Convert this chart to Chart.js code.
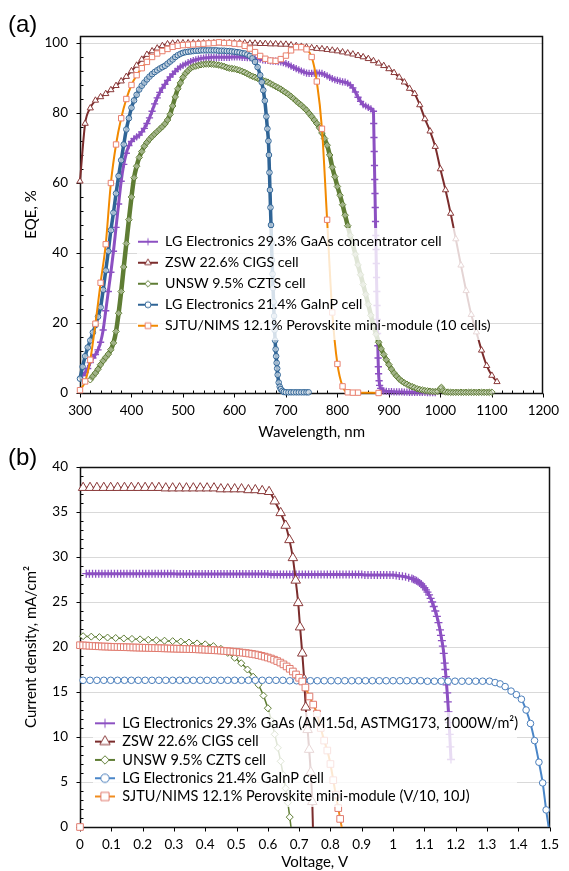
<!DOCTYPE html>
<html><head><meta charset="utf-8">
<script src="https://cdn.jsdelivr.net/npm/chart.js@4.4.1/dist/chart.umd.min.js"></script>
<style>
html,body{margin:0;padding:0;background:#fff;}
#wrap{position:relative;width:569px;height:871px;overflow:hidden;background:#fff;}
canvas{position:absolute;left:0;}
#ca{top:0;} #cb{top:441px;}
.plabel{position:absolute;left:8px;font-family:'Liberation Sans',Arial,sans-serif;font-size:24px;line-height:24px;color:#000;}
</style></head><body>
<div id="wrap">
<canvas id="ca" width="569" height="441"></canvas>
<canvas id="cb" width="569" height="430"></canvas>
<div class="plabel" style="top:12px">(a)</div>
<div class="plabel" style="top:445px">(b)</div>
</div>
<script>
// ---------------- Panel (a): EQE vs wavelength ----------------
const labelsA = ['LG Electronics 29.3% GaAs concentrator cell','ZSW 22.6% CIGS cell','UNSW 9.5% CZTS cell','LG Electronics 21.4% GaInP cell','SJTU/NIMS 12.1% Perovskite mini-module (10 cells)'];
const xTicksA = ['300','400','500','600','700','800','900','1000','1100','1200'];
const yTickValuesA = [0,20,40,60,80,100];
const yTicksA = ['0','20','40','60','80','100'];

const gaasEqeWl = [305,310,315,320,325,330,335,340,345,350,
355,360,365,370,375,380,385,390,395,400,
405,410,415,420,425,430,435,440,445,450,
455,460,465,470,475,480,485,490,495,500,
505,510,515,520,525,530,535,540,545,550,
555,560,565,570,575,580,585,590,595,600,
605,610,615,620,625,630,635,640,645,650,
655,660,665,670,675,680,685,690,695,700,
705,710,715,720,725,730,735,740,745,750,
755,760,765,770,775,780,785,790,795,800,
805,810,815,820,825,830,835,840,845,850,
855,860,865,870,870.5,871,871.5,872,872.5,873,
873.5,874,874.5,875,875.5,876,876.5,877,877.5,878,
878.5,879,879.5,880,881,882,884,887,890,895,
900,905,910,915,920,925,930,935,940,945,
950,955,960,965,970,975,980,985,990];
const gaasEqe = [5,5.8,7,8.7,10,11,12.3,14.5,18,23.5,
29,34.5,40.5,47.3,54,60.5,65.3,68.5,70.7,71.9,
72.7,73.2,73.7,74.6,75.6,77,78.6,80.5,82.6,84.3,
85.9,87.1,88.2,89.3,90.3,91.1,91.9,92.6,93.2,93.6,
94,94.4,94.7,95,95.2,95.4,95.6,95.7,95.8,95.8,
95.9,95.9,95.9,95.9,95.9,95.9,95.9,95.9,96,96,
96,96,95.9,95.9,95.8,95.8,95.7,95.6,95.5,95.4,
95.2,95.1,95,94.9,94.8,94.8,94.7,94.6,94.4,94.1,
93.8,93.4,93,92.7,92.3,92,91.7,91.4,91.3,91.3,
91.4,91.4,91.4,91.3,91,90.6,90.2,89.8,89.5,89.3,
89.1,88.9,88.8,88.5,88,87.2,86,84.5,83.3,82.4,
82,81.6,81.2,80.5,77,73,69,65,61,57,
53,49,45,41,37,33,29,25,21,17,
13.5,10,7.5,5.5,3.5,2.2,1.3,0.8,0.6,0.5,
0.4,0.4,0.35,0.3,0.3,0.3,0.25,0.25,0.2,0.2,
0.2,0.2,0.2,0.15,0.15,0.1,0.1,0.1,0.1];

const cigsEqeWl = [300,310,320,330,340,350,360,370,380,390,
400,410,420,430,440,450,460,470,480,490,
500,510,520,530,540,550,560,570,580,590,
600,610,620,630,640,650,660,670,680,690,
700,710,720,730,740,750,760,770,780,790,
800,810,820,830,840,850,860,870,880,890,
900,910,920,930,940,950,960,970,980,990,
1000,1010,1020,1030,1040,1050,1060,1070,1080,1090,
1100,1110];
const cigsEqe = [60.5,77,81.4,83.6,84.6,85.5,86.6,87.8,89.1,90.4,
92,93.6,95.3,96.7,97.7,98.5,99.2,99.7,99.9,100,
100,100,100,100,100,100,100,100,100,100,
100,100,100,99.9,99.9,99.8,99.8,99.7,99.7,99.6,
99.6,99.4,99.2,99,98.8,98.6,98.4,98.3,98.1,97.9,
97.7,97.4,97.1,96.8,96.4,96,95.5,94.9,94.2,93.5,
92.6,91.5,90.2,88.8,87,85.5,82.3,78.3,74.8,70.4,
64,58,51.3,44,36.5,29.2,22.4,17.4,12.2,7.8,
5,3.2];

const cztsEqeWl = [320,325,330,335,340,345,350,355,360,365,
370,375,380,385,390,395,400,405,410,415,
420,425,430,435,440,445,450,455,460,465,
470,475,480,485,490,495,500,505,510,515,
520,525,530,535,540,545,550,555,560,565,
570,575,580,585,590,595,600,605,610,615,
620,625,630,635,640,645,650,655,660,665,
670,675,680,685,690,695,700,705,710,715,
720,725,730,735,740,745,750,755,760,765,
770,775,780,785,790,795,800,805,810,815,
820,825,830,835,840,845,850,855,860,865,
870,875,880,885,890,895,900,905,910,915,
920,925,930,935,940,945,950,955,960,965,
970,975,980,985,990,995,1000,1002,1005,1010,
1015,1020,1025,1030,1035,1040,1045,1050,1055,1060,
1065,1070,1075,1080,1085,1090,1095,1100];
const cztsEqe = [3.8,4.8,5.7,6.8,8.1,9.2,10.2,11.1,12.4,14.3,
17.6,22.8,29,36,42.7,49.5,56,61.5,64.8,67.3,
69,70.5,71.6,72.5,73.3,74,74.7,75.4,76.1,76.9,
78,79.6,82,84.6,86.9,88.6,90.2,91.3,92.1,92.8,
93.2,93.4,93.6,93.8,93.9,94,94,94,93.9,93.8,
93.7,93.5,93.3,93,92.8,92.7,92.6,92.4,92.2,91.9,
91.6,91.2,90.8,90.5,90.2,89.9,89.6,89.3,89.1,88.8,
88.4,88,87.6,87.2,86.8,86.3,85.8,85.3,84.7,84.1,
83.4,82.8,82.2,81.5,80.8,79.9,79,78,77,75.8,
74.3,72.7,70.8,68,64.5,61.8,59,56.5,53.8,50.8,
47.8,45,42.4,39.6,36.6,33.8,31,28.2,25.3,22.2,
19.3,16.8,14.5,12.6,11,9.5,8.1,6.8,5.7,4.8,
4,3.4,2.9,2.5,2.1,1.8,1.5,1.2,1,0.85,
0.7,0.6,0.5,0.45,0.4,0.5,1.2,1.6,0.6,0.3,
0.25,0.2,0.2,0.2,0.2,0.2,0.2,0.2,0.2,0.2,
0.2,0.2,0.2,0.2,0.2,0.2,0.2,0.2];

const gainpEqeWl = [300,305,310,315,320,325,330,335,340,345,
350,355,360,365,370,375,380,385,390,395,
400,405,410,415,420,425,430,435,440,445,
450,455,460,465,470,475,480,485,490,495,
500,505,510,515,520,525,530,535,540,545,
550,555,560,565,570,575,580,585,590,595,
600,605,610,615,620,625,630,635,640,645,
650,653,656,659,662,664,666,667,668,669,
670,671,672,673,674,675,676,677,678,679,
680,681,682,683,684,686,688,690,693,696,
700,705,710,715,720,725,730,735,740,744];
const gainpEqe = [4.1,7.5,10.5,13,15,17.3,19.4,21.8,24.5,29.5,
35,40.5,46.5,51.5,57,62,66.5,71,75.3,78.5,
81.5,83.6,85.2,86.7,87.8,88.7,89.6,90.4,91.1,91.7,
92.2,92.7,93.1,93.5,94.1,94.7,95.3,96,96.5,96.9,
97.2,97.4,97.5,97.6,97.7,97.8,97.8,97.9,97.9,97.9,
97.9,97.9,97.9,97.9,97.8,97.8,97.8,97.7,97.7,97.6,
97.5,97.4,97.3,97.1,97,96.7,96.3,95.6,94.6,93.1,
90.8,88.8,86.5,83.5,79,75.5,72,68,63,58,
53,48,43,38,34,30,26,22,18,15,
12.5,10.5,8.6,7,5.2,3,1.8,1.1,0.6,0.3,
0.2,0.2,0.2,0.2,0.2,0.2,0.2,0.2,0.2,0.2];

const pskEqeWl = [300,310,320,330,340,350,360,370,380,390,
400,410,420,430,440,450,460,470,480,490,
500,510,520,530,540,550,560,570,580,590,
600,610,620,630,640,650,660,670,680,690,
700,710,720,730,740,750,760,770,780,790,
800,810,820,830,840,880];
const pskEqe = [0.8,3.3,9.5,19.8,31.5,42.5,60,71,78.5,84,
88,90.8,92.8,94.6,96,97,97.7,98.3,98.9,99.2,
99.4,99.5,99.6,99.7,99.8,99.9,100,100.2,100,100,
99.8,99.7,99.2,98.4,97.4,96.3,95.5,95,94.9,95.4,
96.4,97.9,98.8,98.8,98.2,96,89,75.5,49.5,23,
8.3,1.9,0.2,0.1,0.1,0];

// ---------------- Panel (b): J-V ----------------
const labelsB = ['LG Electronics 29.3% GaAs (AM1.5d, ASTMG173, 1000W/m²)','ZSW 22.6% CIGS cell','UNSW 9.5% CZTS cell','LG Electronics 21.4% GaInP cell','SJTU/NIMS 12.1% Perovskite mini-module (V/10, 10J)'];
const xTicksB = ['0','0.1','0.2','0.3','0.4','0.5','0.6','0.7','0.8','0.9','1','1.1','1.2','1.3','1.4','1.5'];
const yTicksB = ['0','5','10','15','20','25','30','35','40'];

const gaasJvV = [0.02,0.03,0.04,0.05,0.06,0.07,0.08,0.09,0.10,0.11,0.12,0.13,0.14,0.15,0.16,0.17,0.18,0.19,0.20,0.21,0.22,0.23,0.24,0.25,0.26,0.27,0.28,0.29,0.30,
0.31,0.32,0.33,0.34,0.35,0.36,0.37,0.38,0.39,0.40,0.41,0.42,0.43,0.44,0.45,0.46,0.47,0.48,0.49,0.50,0.51,0.52,0.53,0.54,0.55,0.56,0.57,0.58,0.59,0.60,
0.61,0.62,0.63,0.64,0.65,0.66,0.67,0.68,0.69,0.70,0.71,0.72,0.73,0.74,0.75,0.76,0.77,0.78,0.79,0.80,0.81,0.82,0.83,0.84,0.85,0.86,0.87,0.88,0.89,0.90,
0.91,0.92,0.93,0.94,0.95,0.96,0.97,0.98,0.99,1.00,
1.01,1.02,1.03,1.04,1.05,1.06,
1.065,1.07,1.075,1.08,1.085,1.09,1.095,1.10,
1.105,1.11,1.115,1.12,1.125,1.13,1.135,1.14,1.145,1.15,
1.153,1.156,1.159,1.162,1.165,
1.167,1.169,1.171,1.173,1.175,1.177,1.179,1.181,1.183,1.185];
const gaasJvJ = [28.15,28.15,28.15,28.15,28.15,28.15,28.15,28.15,28.15,28.15,28.15,28.15,28.15,28.15,28.15,28.15,28.15,28.15,28.15,28.15,28.15,28.15,28.15,28.15,28.15,28.15,28.15,28.15,28.15,
28.1,28.1,28.1,28.1,28.1,28.1,28.1,28.1,28.1,28.1,28.1,28.1,28.1,28.1,28.1,28.1,28.1,28.1,28.1,28.1,28.1,28.1,28.1,28.1,28.1,28.1,28.1,28.1,28.1,28.1,
28.05,28.05,28.05,28.05,28.05,28.05,28.05,28.05,28.05,28.05,28.05,28.05,28.05,28.05,28.05,28.05,28.05,28.05,28.05,28.05,28.05,28.05,28.05,28.05,28.05,28.05,28.05,28.05,28.05,28.05,
28,28,28,28,28,28,28,28,28,28,
27.95,27.9,27.85,27.8,27.7,27.6,
27.52,27.45,27.35,27.25,27.12,27.0,26.8,26.6,
26.35,26.1,25.8,25.4,25.0,24.5,24.0,23.4,22.7,21.9,
21.3,20.7,20.1,19.3,18.2,
17.5,16.7,15.8,14.9,13.9,12.8,11.6,10.3,8.9,7.5];

const cigsJvV = [0.010,0.032,0.054,0.076,0.098,0.120,0.142,0.164,0.186,0.208,
0.230,0.252,0.274,0.296,0.318,0.340,0.362,0.384,0.406,0.428,
0.450,0.472,0.494,0.516,0.538,0.560,0.582,0.604,
0.622,0.641,0.657,0.669,0.680,0.689,0.697,0.703,0.710,0.716,0.721,0.727,0.732,0.737,0.742,0.744];
const cigsJvJ = [37.7,37.7,37.7,37.7,37.7,37.7,37.7,37.7,37.7,37.7,
37.7,37.7,37.65,37.65,37.65,37.65,37.65,37.65,37.65,37.65,
37.55,37.55,37.55,37.55,37.45,37.45,37.35,37.25,
36.2,34.9,33.5,31.9,29.9,27.4,24.9,22.2,19.3,16.4,13.3,10.8,8.6,6.1,2.8,0];

const cztsJvV = [0.010,0.036,0.062,0.088,0.114,0.140,0.166,0.192,0.218,0.244,
0.270,0.296,0.322,0.348,0.374,0.400,0.426,0.450,0.472,0.494,
0.515,0.535,0.553,0.570,0.586,0.600,0.612,0.622,0.632,0.641,
0.649,0.657,0.664,0.670,0.674];
const cztsJvJ = [21.2,21.15,21.1,21.05,21,20.95,20.9,20.85,20.8,20.75,
20.7,20.65,20.6,20.5,20.4,20.3,20.1,19.8,19.35,18.8,
18.2,17.5,16.7,15.8,14.6,13.2,11.8,10.3,8.8,7.3,
5.8,4.3,2.7,1.1,0];

const gainpJvV = [0.010,0.032,0.054,0.076,0.098,0.120,0.142,0.164,0.186,0.208,
0.230,0.252,0.274,0.296,0.318,0.340,0.362,0.384,0.406,0.428,
0.450,0.472,0.494,0.516,0.538,0.560,0.582,0.604,0.626,0.648,
0.670,0.692,0.714,0.736,0.758,0.780,0.802,0.824,0.846,0.868,
0.890,0.912,0.934,0.956,0.978,1.000,1.022,1.044,1.066,1.088,
1.110,1.132,1.154,1.176,1.198,1.220,1.242,1.264,1.286,1.308,
1.326,1.342,1.358,1.377,1.394,1.410,1.425,1.439,1.452,1.466,1.478,1.489,1.497];
const gainpJvJ = [16.3,16.3,16.3,16.3,16.3,16.3,16.3,16.3,16.3,16.3,
16.3,16.3,16.3,16.3,16.3,16.3,16.3,16.3,16.3,16.3,
16.3,16.3,16.3,16.3,16.3,16.3,16.3,16.3,16.3,16.3,
16.25,16.25,16.25,16.25,16.25,16.25,16.25,16.25,16.25,16.25,
16.25,16.25,16.25,16.25,16.25,16.25,16.25,16.25,16.25,16.25,
16.2,16.2,16.2,16.2,16.2,16.2,16.2,16.2,16.2,16.2,
16.05,15.9,15.6,15.1,14.7,14.2,13.0,11.5,9.6,7.2,4.9,1.9,0];

const pskJvV = [0.00,0.01,0.02,0.03,0.04,0.05,0.06,0.07,0.08,0.09,
0.10,0.11,0.12,0.13,0.14,0.15,0.16,0.17,0.18,0.19,
0.20,0.21,0.22,0.23,0.24,0.25,0.26,0.27,0.28,0.29,
0.30,0.31,0.32,0.33,0.34,0.35,0.36,0.37,0.38,0.39,
0.40,0.41,0.42,0.43,0.44,0.45,0.46,0.47,0.48,0.49,
0.50,0.51,0.52,0.53,0.54,0.55,0.56,0.57,0.58,0.59,
0.60,0.61,0.62,0.63,0.64,0.65,0.66,0.67,0.68,0.69,
0.70,0.71,0.72,
0.733,0.745,0.757,0.769,0.780,0.790,0.800,0.809,0.817,0.825,0.831,0.836];
const pskJvJ = [20.2,20.18,20.16,20.14,20.12,20.1,20.08,20.06,20.05,20.04,
20.02,20.01,20,19.99,19.98,19.97,19.96,19.95,19.94,19.93,
19.92,19.91,19.9,19.89,19.88,19.87,19.86,19.85,19.84,19.83,
19.82,19.81,19.8,19.79,19.78,19.77,19.76,19.75,19.73,19.72,
19.7,19.68,19.66,19.64,19.62,19.6,19.57,19.54,19.51,19.48,
19.45,19.41,19.37,19.33,19.28,19.23,19.17,19.1,19.02,18.93,
18.83,18.72,18.59,18.44,18.27,18.07,17.84,17.58,17.28,16.95,
16.58,16.17,15.5,
14.5,13.6,12.6,11.0,9.6,8.5,7.0,5.2,3.6,2.1,0.9,0];
const pskOriginV = [0];
const pskOriginJ = [0];

// ---------------- helpers ----------------
Chart.defaults.font.family = 'Lato';
Chart.defaults.color = '#000';
const pts = (xs, ys) => xs.map((x, i) => ({x: x, y: ys[i]}));

function ds(label, xs, ys, st, order, lastNoMarker) {
  const n = xs.length;
  return {
    label: label, data: pts(xs, ys), order: order,
    borderColor: st.line, borderWidth: st.lw, backgroundColor: st.fill,
    pointStyle: st.ps,
    pointRadius: lastNoMarker ? (c) => (c.dataIndex === n - 1 ? 0 : st.r) : st.r,
    pointHoverRadius: st.r,
    pointBorderColor: st.mk, pointBackgroundColor: st.fill, pointBorderWidth: st.mbw,
    cubicInterpolationMode: 'monotone', clip: false, fill: false, showLine: st.showLine !== false
  };
}

function makeIcon(w, h, st, r) {
  const c = document.createElement('canvas'); c.width = w; c.height = h;
  const g = c.getContext('2d');
  g.strokeStyle = st.line; g.lineWidth = 2;
  g.beginPath(); g.moveTo(0, h / 2); g.lineTo(w, h / 2); g.stroke();
  g.fillStyle = '#fff'; g.strokeStyle = st.mk; g.lineWidth = 1;
  Chart.helpers.drawPoint(g, {pointStyle: st.ps, radius: r, rotation: 0, borderWidth: 1}, w / 2, h / 2);
  return c;
}

function panelPlugin(cfg) {
  return {
    id: 'panel_' + cfg.name,
    afterInit(chart) {
      const lg = chart.legend;
      if (lg) lg._layers = () => [{z: 10, draw: (ca) => lg.draw(ca)}];
    },
    afterLayout(chart) {
      const lg = chart.legend;
      if (!lg) return;
      lg.left = cfg.legendX; lg.top = cfg.legendY;
      lg.width = 480; lg.height = 200;
      lg.right = lg.left + 480; lg.bottom = lg.top + 200;
    },
    beforeDatasetsDraw(chart) {
      const {ctx, chartArea: a, scales} = chart;
      const x = scales.x, y = scales.y;
      const L = Math.round(a.left) + 0.5, R = Math.round(a.right) - 0.5;
      const T = Math.round(a.top) + 0.5, B = Math.round(a.bottom) + 0.5;
      ctx.save();
      ctx.strokeStyle = '#000'; ctx.lineWidth = 1;
      ctx.beginPath();
      cfg.xMajor.forEach(v => { const p = Math.round(x.getPixelForValue(v)) + 0.5; ctx.moveTo(p, B); ctx.lineTo(p, B + 4); });
      cfg.xMinor.forEach(v => { const p = Math.round(x.getPixelForValue(v)) + 0.5; ctx.moveTo(p, B); ctx.lineTo(p, B - 3); });
      cfg.yMajor.forEach(v => { const p = Math.round(y.getPixelForValue(v)) + 0.5; ctx.moveTo(L - 4, p); ctx.lineTo(L, p); });
      cfg.yMinor.forEach(v => { const p = Math.round(y.getPixelForValue(v)) + 0.5; ctx.moveTo(L, p); ctx.lineTo(L + 3, p); });
      ctx.stroke();
      ctx.lineWidth = 1.5; ctx.strokeStyle = '#111';
      ctx.strokeRect(L, T, R - L, B - T);
      ctx.restore();
    },
    afterDatasetsDraw(chart) {
      const ctx = chart.ctx;
      ctx.save();
      ctx.fillStyle = 'rgba(255,255,255,0.8)';
      ctx.fillRect(cfg.box[0], cfg.box[1], cfg.box[2] - cfg.box[0], cfg.box[3] - cfg.box[1]);
      ctx.restore();
    }
  };
}

function range(a, b, s) { const out = []; for (let v = a; v <= b + 1e-9; v += s) out.push(Math.round(v * 1000) / 1000); return out; }

function legendOpts(icons, size, pad, bw) {
  return {
    display: true, position: 'chartArea', align: 'start',
    labels: {
      font: {family: 'Lato', size: size}, color: '#000', padding: pad,
      usePointStyle: true, pointStyleWidth: bw, boxHeight: size,
      sort: (a, b) => a.datasetIndex - b.datasetIndex,
      generateLabels(chart) {
        const items = Chart.defaults.plugins.legend.labels.generateLabels(chart);
        return items.filter(it => icons[it.datasetIndex]).map(it => Object.assign({}, it, {pointStyle: icons[it.datasetIndex], fontColor: '#000'}));
      }
    }
  };
}

// ---------------- styles ----------------
const stA = [
  {line: '#8C50C2', lw: 3, mk: '#8C50C2', fill: '#fff', ps: 'cross', r: 3.6, mbw: 1.3},
  {line: '#7B2C2C', lw: 2, mk: '#8B3A3A', fill: '#fff', ps: 'triangle', r: 3.6, mbw: 1},
  {line: '#5F7D34', lw: 4.5, mk: '#5F7D34', fill: 'rgba(255,255,255,0.4)', ps: 'rectRot', r: 3.3, mbw: 1},
  {line: '#2F6496', lw: 3.5, mk: '#2F6496', fill: 'rgba(255,255,255,0.55)', ps: 'circle', r: 2.8, mbw: 1},
  {line: '#F28A00', lw: 2, mk: '#E8806F', fill: '#fff', ps: 'rect', r: 3.8, mbw: 1}
];
const stB = [
  {line: '#8C50C2', lw: 3, mk: '#8C50C2', fill: '#fff', ps: 'cross', r: 4, mbw: 1.3},
  {line: '#7B2C2C', lw: 2, mk: '#8B3A3A', fill: '#fff', ps: 'triangle', r: 5.5, mbw: 1},
  {line: '#5F7D34', lw: 1.5, mk: '#5F7D34', fill: '#fff', ps: 'rectRot', r: 3.5, mbw: 1},
  {line: '#4A86C8', lw: 2, mk: '#4A7EBB', fill: '#fff', ps: 'circle', r: 3.3, mbw: 1},
  {line: '#F08C1E', lw: 2, mk: '#E07A6E', fill: '#fff', ps: 'rect', r: 4.7, mbw: 1}
];

// ---------------- chart (a) ----------------
const iconsA = [makeIcon(20, 12, stA[0], 3.5), makeIcon(20, 12, stA[1], 3.8), makeIcon(20, 12, stA[2], 3.2), makeIcon(20, 12, stA[3], 3), makeIcon(20, 12, stA[4], 4)];
new Chart(document.getElementById('ca'), {
  type: 'scatter',
  data: {datasets: [
    ds(labelsA[0], gaasEqeWl, gaasEqe, stA[0], 5, false),
    ds(labelsA[1], cigsEqeWl, cigsEqe, stA[1], 4, false),
    ds(labelsA[2], cztsEqeWl, cztsEqe, stA[2], 3, false),
    ds(labelsA[3], gainpEqeWl, gainpEqe, stA[3], 2, false),
    ds(labelsA[4], pskEqeWl, pskEqe, stA[4], 1, false)
  ]},
  options: {
    responsive: false, animation: false, devicePixelRatio: 1, events: [],
    layout: {padding: {top: 36, right: 19, bottom: 0, left: 0}},
    plugins: {legend: legendOpts(iconsA, 14.2, 6.8, 20), tooltip: {enabled: false}},
    scales: {
      x: {type: 'linear', min: 300, max: 1200,
        afterFit: (s) => { s.height = 48; },
        grid: {display: false, drawTicks: false}, border: {display: false},
        ticks: {stepSize: 100, autoSkip: false, maxRotation: 0, padding: 10, font: {size: 13.5}, color: '#000',
          callback: (v, i) => xTicksA[i]},
        title: {display: true, text: 'Wavelength, nm', font: {size: 15}, color: '#000', padding: {top: 0, bottom: 0}}},
      y: {type: 'linear', min: 0, max: 102,
        afterFit: (s) => { s.width = 80; },
        afterBuildTicks: (s) => { s.ticks = yTickValuesA.map(v => ({value: v})); },
        grid: {color: '#D9D9D9', lineWidth: 1, drawTicks: false}, border: {display: false},
        ticks: {padding: 12, font: {size: 13.5}, color: '#000', callback: (v, i) => yTicksA[i]},
        title: {display: true, text: 'EQE, %', font: {size: 15}, color: '#000', padding: {top: 22, bottom: 0}}}
    }
  },
  plugins: [panelPlugin({name: 'a', legendX: 131.2, legendY: 227.8, box: [137, 228, 490, 340],
    xMajor: range(300, 1200, 100), xMinor: range(320, 1180, 20).filter(v => v % 100 !== 0),
    yMajor: range(0, 100, 20), yMinor: range(4, 100, 4).filter(v => v % 20 !== 0)})]
});

// ---------------- chart (b) ----------------
const iconsB = [makeIcon(20, 14, stB[0], 4.5), makeIcon(20, 14, stB[1], 6), makeIcon(20, 14, stB[2], 4.2), makeIcon(20, 14, stB[3], 4.2), makeIcon(20, 14, stB[4], 5.8)];
const originStyle = {line: '#F08C1E', lw: 0, mk: '#E07A6E', fill: '#fff', ps: 'rect', r: 4.7, mbw: 1, showLine: false};
new Chart(document.getElementById('cb'), {
  type: 'scatter',
  data: {datasets: [
    ds(labelsB[0], gaasJvV, gaasJvJ, stB[0], 5, false),
    ds(labelsB[1], cigsJvV, cigsJvJ, stB[1], 4, true),
    ds(labelsB[2], cztsJvV, cztsJvJ, stB[2], 3, true),
    ds(labelsB[3], gainpJvV, gainpJvJ, stB[3], 2, true),
    ds(labelsB[4], pskJvV, pskJvJ, stB[4], 1, true),
    ds('', pskOriginV, pskOriginJ, originStyle, 0, false)
  ]},
  options: {
    responsive: false, animation: false, devicePixelRatio: 1, events: [],
    layout: {padding: {top: 26, right: 13, bottom: 0, left: 0}},
    plugins: {legend: legendOpts(iconsB, 14.5, 3.8, 20), tooltip: {enabled: false}},
    scales: {
      x: {type: 'linear', min: 0, max: 1.5,
        afterFit: (s) => { s.height = 44; },
        grid: {display: false, drawTicks: false}, border: {display: false},
        ticks: {stepSize: 0.1, autoSkip: false, maxRotation: 0, padding: 10, font: {size: 13.5}, color: '#000',
          callback: (v, i) => xTicksB[i]},
        title: {display: true, text: 'Voltage, V', font: {size: 15}, color: '#000', padding: {top: 0, bottom: 0}}},
      y: {type: 'linear', min: 0, max: 40,
        afterFit: (s) => { s.width = 80; },
        grid: {color: '#D9D9D9', lineWidth: 1, drawTicks: false}, border: {display: false},
        ticks: {stepSize: 5, padding: 12, font: {size: 13.5}, color: '#000', callback: (v, i) => yTicksB[i]},
        title: {display: true, text: 'Current density, mA/cm²', font: {size: 15}, color: '#000', padding: {top: 22, bottom: 0}}}
    }
  },
  plugins: [panelPlugin({name: 'b', legendX: 91.2, legendY: 271.25, box: [93, 271, 517, 366],
    xMajor: range(0, 1.5, 0.1), xMinor: [],
    yMajor: range(0, 40, 5), yMinor: range(1, 39, 1).filter(v => v % 5 !== 0)})]
});
</script>
</body></html>
